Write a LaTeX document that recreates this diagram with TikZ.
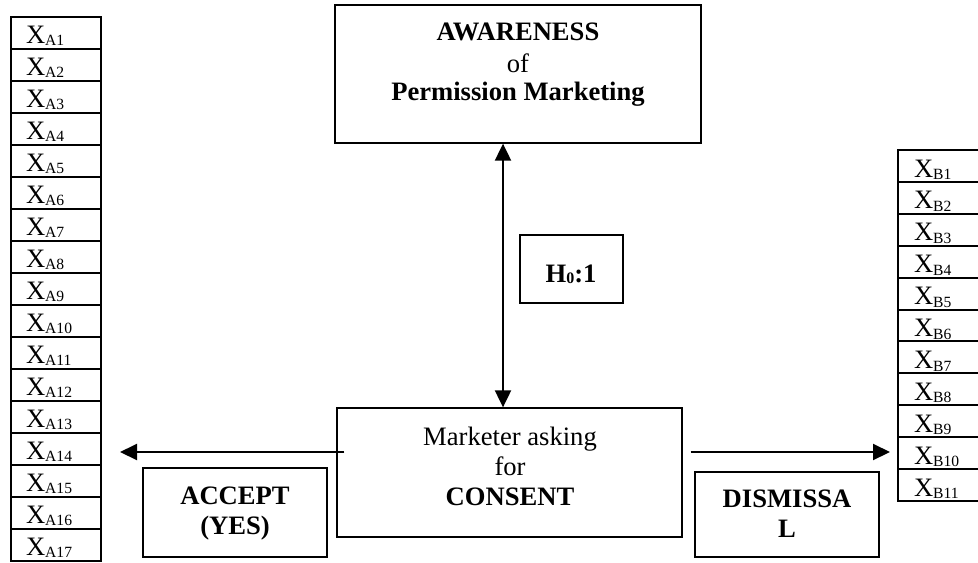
\documentclass[tikz,border=0pt]{standalone}
\usepackage{fontspec}
\setmainfont{Liberation Serif}
\usetikzlibrary{arrows.meta}
\newcommand\xsub[1]{\raisebox{-1.3pt}{\fontsize{7.8pt}{8pt}\selectfont #1}}
\begin{document}
\begin{tikzpicture}[x=0.5pt,y=-0.5pt]
\tikzset{
 bx/.style={draw, line width=0.65pt, inner sep=0pt},
 txt/.style={inner sep=0pt, anchor=base, font=\fontsize{13.3pt}{15pt}\selectfont},
 btxt/.style={inner sep=0pt, anchor=base, font=\fontsize{13.3pt}{15pt}\selectfont\bfseries},
 xcell/.style={draw, line width=1pt, anchor=base west, inner ysep=0pt, align=left,
   font=\fontsize{13.3pt}{15pt}\selectfont},
 tip/.tip={Triangle[length=8.5pt,width=8pt]},
 arr/.style={line width=1pt},
}
\useasboundingbox (0,0) rectangle (978,562);
\clip (0,0) rectangle (978,562);
% left column
\foreach \i in {1,...,17}
  \node[xcell, inner xsep=7.5pt, text width=30pt, text height=13pt, text depth=3pt]
    (a\i) at (10, {17+32*(\i-1)+26}) {X\xsub{A\i}};
% right column
\foreach \i in {1,...,11}
  \node[xcell, inner xsep=8pt, text width=60pt, text height=13.5pt, text depth=2.45pt]
    (b\i) at (897, {150+31.9*(\i-1)+27}) {X\xsub{B\i}};
% awareness box
\node[bx, minimum width=183pt, minimum height=69pt] (aw) at (518,74) {};
\node[btxt] (aw1) at (518,40) {AWARENESS};
\node[txt]  (aw2) at (518,72) {of};
\node[btxt] (aw3) at (518,100) {Permission Marketing};
% hypothesis box
\node[bx, minimum width=51.5pt, minimum height=34pt] (h) at (571.5,269) {};
\node[btxt] (ht) at (571,282) {H\raisebox{-0.6pt}{\fontsize{8pt}{8pt}\selectfont 0}:1};
% central box
\node[bx, minimum width=172.5pt, minimum height=64.5pt] (cb) at (509.5,472.5) {};
\node[txt]  (cb1) at (510,445) {Marketer asking};
\node[txt]  (cb2) at (510,475) {for};
\node[btxt] (cb3) at (510,505) {CONSENT};
% accept box
\node[bx, minimum width=92pt, minimum height=44.5pt] (ac) at (235,512.5) {};
\node[btxt] (ac1) at (235,504) {ACCEPT};
\node[btxt] (ac2) at (235,534) {(YES)};
% dismissal box
\node[bx, minimum width=92pt, minimum height=42.5pt] (di) at (787,514.5) {};
\node[btxt] (di1) at (787,507) {DISMISSA};
\node[btxt] (di2) at (787,537) {L};
% connectors
\coordinate (vx) at (503,0);
\coordinate (lt) at (120,452);
\coordinate (rt) at (890,452);
\draw[arr, tip-tip] (aw.south -| vx) -- (cb.north -| vx);
\draw[arr, -tip] ([xshift=4pt]cb.west |- lt) -- (lt);
\draw[arr, -tip] ([xshift=4pt]cb.east |- rt) -- (rt);
\end{tikzpicture}
\end{document}
